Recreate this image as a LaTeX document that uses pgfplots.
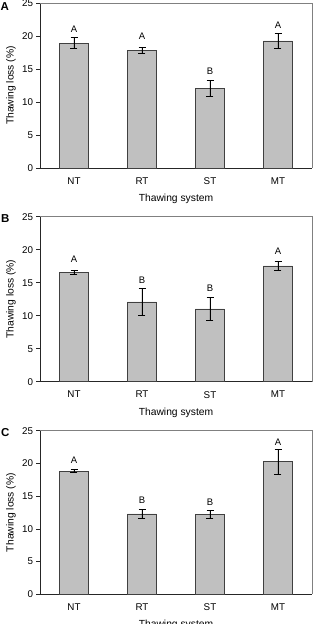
\documentclass[border=0pt]{standalone}
\usepackage{pgfplots}
\pgfplotsset{compat=1.18}
\usepackage{fontspec}
\setmainfont{Liberation Sans}
\definecolor{barfill}{HTML}{C0C0C0}
\definecolor{baredge}{HTML}{404040}
\pgfplotsset{
  panel/.style={
    width=272pt, height=165pt, scale only axis,
    anchor=south west,
    xmin=-0.5, xmax=3.5, ymin=0, ymax=25,
    axis x line*=bottom, axis y line*=left,
    axis line style={black!85, line width=0.6pt},
    xtick={0,1,2,3}, xticklabels={NT,RT,ST,MT},
    x tick style={draw=none},
    extra x ticks={-0.5,0.5,1.5,2.5,3.5}, extra x tick labels={},
    extra x tick style={tick style={draw=black!85, line width=0.6pt}, major tick length=3.5pt},
    ytick={0,5,10,15,20,25},
    y tick style={black!85, line width=0.6pt}, major tick length=3.5pt,
    tick align=outside,
    tick label style={font=\fontsize{9.8}{11}\selectfont},
    /pgf/number format/assume math mode=true,
    xlabel={Thawing system}, ylabel={Thawing loss (\%)},
    label style={font=\fontsize{10.3}{12}\selectfont},
    xlabel style={yshift=4.5pt},
    ylabel style={yshift=-0.5pt},
    xticklabel style={yshift=-2.5pt},
    clip=false,
    after end axis/.code={
      \draw[gray, line width=0.5pt] (rel axis cs:0,1) -- (rel axis cs:1,1) -- (rel axis cs:1,0);
    },
  },
  bars/.style={
    ybar, bar width=29pt, fill=barfill, draw=baredge, line width=0.6pt,
    error bars/.cd, y dir=both, y explicit,
    error bar style={black, line width=0.6pt},
    error mark options={rotate=90, mark size=3.5pt, line width=0.6pt, black},
  },
  letters/.style={
    only marks, mark=none,
    nodes near coords, point meta=explicit symbolic,
    nodes near coords style={anchor=center, font=\fontsize{9.5}{11}\selectfont, black},
  },
}
\begin{document}
\begin{tikzpicture}
\path[use as bounding box] (0pt,0pt) rectangle (319pt,-624pt);
% Panel A
\begin{axis}[panel, at={(40pt,-168pt)}]
\addplot[bars] table[x=x, y=y, y error=e] {
x y e
0 18.94 0.80
1 17.85 0.48
2 12.07 1.18
3 19.25 1.13
};
\addplot[letters] table[x=x, y=y, meta=l] {
x y l
0 21.1 A
1 19.95 A
2 14.6 B
3 21.7 A
};
\end{axis}
\node[font=\bfseries\fontsize{11.5}{13}\selectfont, anchor=north west, inner sep=0pt] at (0.5pt,-2pt) {A};
% Panel B
\begin{axis}[panel, at={(40pt,-381.7pt)}]
\addplot[bars] table[x=x, y=y, y error=e] {
x y e
0 16.57 0.28
1 12.10 2.05
2 11.04 1.77
3 17.56 0.73
};
\addplot[letters] table[x=x, y=y, meta=l] {
x y l
0 18.5 A
1 15.4 B
2 14.1 B
3 19.7 A
};
\end{axis}
\node[font=\bfseries\fontsize{11.5}{13}\selectfont, anchor=north west, inner sep=0pt] at (1pt,-214pt) {B};
% Panel C
\begin{axis}[panel, at={(40pt,-594.3pt)}, height=163.6pt]
\addplot[bars] table[x=x, y=y, y error=e] {
x y e
0 18.83 0.23
1 12.28 0.69
2 12.24 0.59
3 20.26 1.85
};
\addplot[letters] table[x=x, y=y, meta=l] {
x y l
0 20.5 A
1 14.3 B
2 14.0 B
3 23.2 A
};
\end{axis}
\node[font=\bfseries\fontsize{11.5}{13}\selectfont, anchor=north west, inner sep=0pt] at (1pt,-428pt) {C};
\end{tikzpicture}
\end{document}
